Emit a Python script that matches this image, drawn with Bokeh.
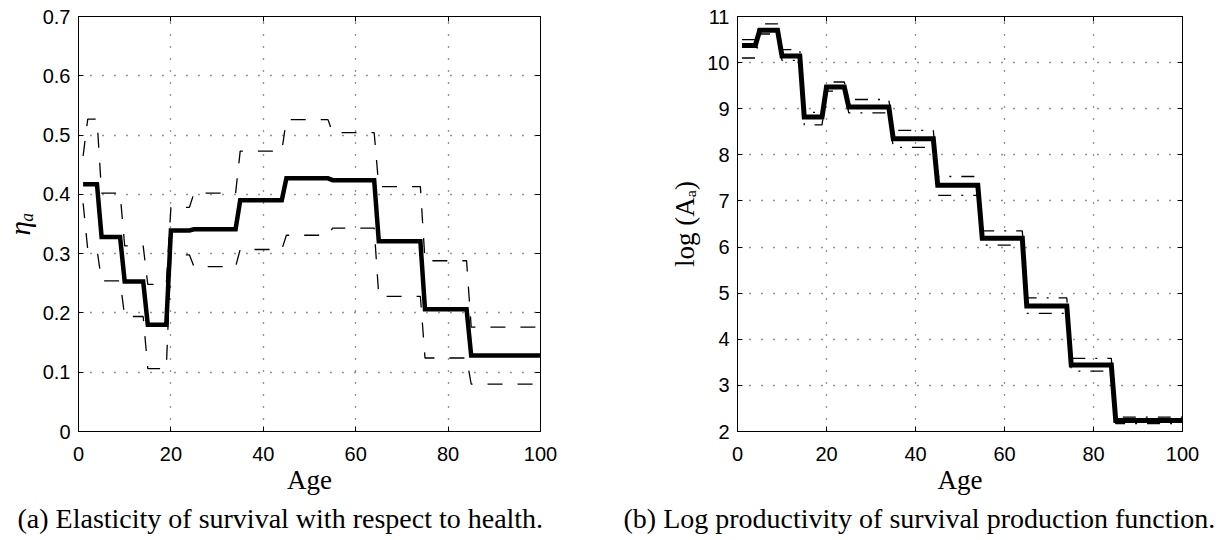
from bokeh.plotting import figure
from bokeh.models import Range1d, FixedTicker, LinearAxis, Title
from bokeh.layouts import row
from bokeh.embed import file_html
from bokeh.resources import INLINE

# ---------------- data ----------------
group_start = [1, 2, 5, 10, 15, 20, 25, 35, 45, 55, 65, 75, 85]
group_end = [1, 4, 9, 14, 19, 24, 34, 44, 54, 64, 74, 84, 100]

# (a) elasticity of survival with respect to health
eta_mean = [0.417, 0.417, 0.328, 0.253, 0.180, 0.339, 0.341, 0.390, 0.427, 0.424, 0.321, 0.206, 0.128]
eta_upper = [0.465, 0.527, 0.402, 0.313, 0.248, 0.378, 0.402, 0.473, 0.526, 0.504, 0.413, 0.288, 0.176]
eta_lower = [0.385, 0.307, 0.254, 0.194, 0.106, 0.298, 0.278, 0.307, 0.331, 0.343, 0.228, 0.124, 0.080]

# (b) log productivity of survival production function
logA_mean = [10.37, 10.37, 10.70, 10.145, 8.82, 9.47, 9.04, 8.35, 7.34, 6.19, 4.72, 3.44, 2.24]
logA_upper = [10.50, 10.50, 10.84, 10.28, 8.92, 9.58, 9.20, 8.53, 7.53, 6.35, 4.90, 3.585, 2.31]
logA_lower = [10.10, 10.10, 10.62, 10.05, 8.65, 9.38, 8.91, 8.16, 7.12, 6.04, 4.56, 3.31, 2.17]

x_ticks = [0, 20, 40, 60, 80, 100]
eta_ticks = [0, 0.1, 0.2, 0.3, 0.4, 0.5, 0.6, 0.7]
eta_tick_labels = ["0", "0.1", "0.2", "0.3", "0.4", "0.5", "0.6", "0.7"]
logA_ticks = [2, 3, 4, 5, 6, 7, 8, 9, 10, 11]

caption_a = "(a) Elasticity of survival with respect to health."
caption_b = "(b) Log productivity of survival production function."


def steps(starts, ends, vals):
    xs, ys = [], []
    for s, e, v in zip(starts, ends, vals):
        xs += [s, e]
        ys += [v, v]
    return xs, ys


TICK_FONT = "Liberation Sans"
SERIF = "Liberation Serif"


def style(p, yticks, ylabels, ylabel):
    p.xaxis.ticker = FixedTicker(ticks=x_ticks)
    p.yaxis.ticker = FixedTicker(ticks=yticks)
    if ylabels is not None:
        p.yaxis.major_label_overrides = {t: l for t, l in zip(yticks, ylabels)}
    for ax in p.xaxis + p.yaxis:
        ax.major_tick_in = 5
        ax.major_tick_out = 0
        ax.minor_tick_in = 0
        ax.minor_tick_out = 0
        ax.axis_line_color = "black"
        ax.axis_line_width = 1
        ax.major_tick_line_color = "black"
        ax.major_label_text_font = TICK_FONT
        ax.major_label_text_font_size = "20px"
        ax.major_label_text_color = "black"
        ax.axis_label_text_font = SERIF
        ax.axis_label_text_font_style = "normal"
        ax.axis_label_text_color = "black"
    p.xaxis.major_label_standoff = 15
    p.yaxis.major_label_standoff = 8
    p.xaxis.axis_label = "Age"
    p.xaxis.axis_label_text_font_size = "27px"
    p.xaxis.axis_label_standoff = 1
    p.yaxis.axis_label = ylabel
    p.yaxis.axis_label_text_font_size = "27px"
    p.yaxis.axis_label_standoff = 4

    # box ticks on top and right
    for side, ticks in (("above", x_ticks), ("right", yticks)):
        ax = LinearAxis(ticker=FixedTicker(ticks=ticks),
                        major_label_overrides={t: "" for t in ticks})
        ax.major_tick_in = 5
        ax.major_tick_out = 0
        ax.minor_tick_in = 0
        ax.minor_tick_out = 0
        ax.major_label_standoff = 0
        ax.major_label_text_font_size = "1px"
        ax.axis_line_color = "black"
        ax.major_tick_line_color = "black"
        p.add_layout(ax, side)

    p.xgrid.ticker = FixedTicker(ticks=x_ticks)
    p.ygrid.ticker = FixedTicker(ticks=yticks)
    for g in (p.xgrid, p.ygrid):
        g.grid_line_color = "black"
        g.grid_line_alpha = 0.85
        g.grid_line_width = 1.3
        g.grid_line_dash = "1 11"
    p.outline_line_color = "black"
    p.outline_line_width = 1
    p.background_fill_color = "white"
    p.border_fill_color = "white"


# ---------------- panel (a) ----------------
p1 = figure(frame_width=462, frame_height=415, output_backend="svg",
            toolbar_location=None, x_range=Range1d(0, 100), y_range=Range1d(0, 0.7),
            min_border_left=76, min_border_right=20, min_border_top=16, min_border_bottom=0)
style(p1, eta_ticks, eta_tick_labels, "ηₐ")
p1.yaxis[0].axis_label_text_font_style = "italic"
p1.yaxis[0].axis_label_text_font_size = "29px"

xs, ys = steps(group_start, group_end, eta_upper)
p1.line(xs, ys, line_color="black", line_width=1.3, line_dash="15 15")
xs, ys = steps(group_start, group_end, eta_lower)
p1.line(xs, ys, line_color="black", line_width=1.3, line_dash="15 15")
xs, ys = steps(group_start, group_end, eta_mean)
p1.line(xs, ys, line_color="black", line_width=4.5, line_join="miter")

p1.add_layout(Title(text=caption_a, align="left", offset=-61, text_font=SERIF,
                    text_font_size="28px", text_font_style="normal",
                    text_color="black", standoff=7), "below")

# ---------------- panel (b) ----------------
p2 = figure(frame_width=445, frame_height=415, output_backend="svg",
            toolbar_location=None, x_range=Range1d(0, 100), y_range=Range1d(2, 11),
            min_border_left=177, min_border_right=47, min_border_top=16, min_border_bottom=0)
style(p2, logA_ticks, None, "log (Aₐ)")

xs, ys = steps(group_start, group_end, logA_upper)
p2.line(xs, ys, line_color="black", line_width=1.3, line_dash="13 10 2 10")
xs, ys = steps(group_start, group_end, logA_lower)
p2.line(xs, ys, line_color="black", line_width=1.3, line_dash="13 10 2 10")
xs, ys = steps(group_start, group_end, logA_mean)
p2.line(xs, ys, line_color="black", line_width=5, line_join="miter")

p2.add_layout(Title(text=caption_b, align="left", offset=-114, text_font=SERIF,
                    text_font_size="28px", text_font_style="normal",
                    text_color="black", standoff=7), "below")

layout = row(p1, p2)
open("out.html", "w").write(file_html(layout, INLINE))
